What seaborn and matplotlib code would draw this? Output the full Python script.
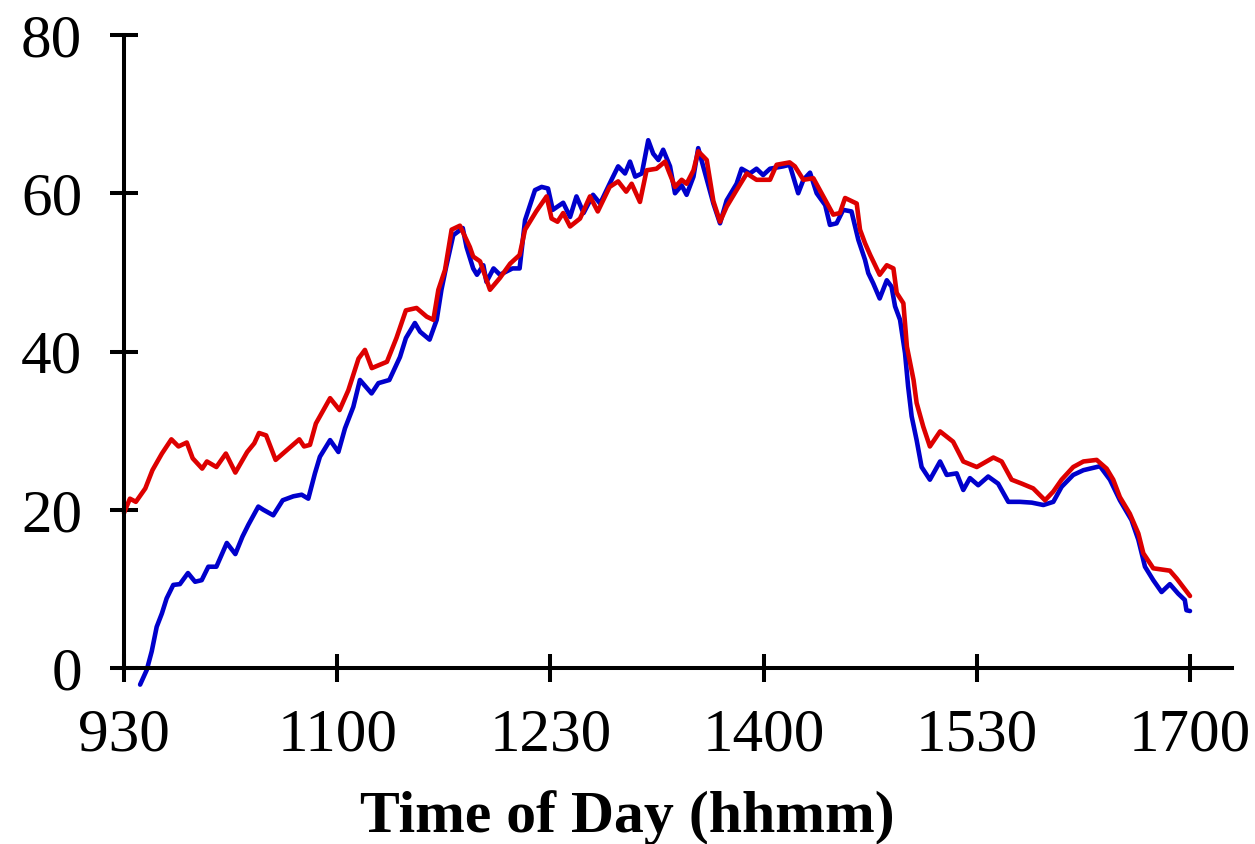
import numpy as np
import pandas as pd
import matplotlib
matplotlib.use("Agg")
import matplotlib.pyplot as plt
import seaborn as sns

# time in minutes after midnight (930 -> 570, 1700 -> 1020)
red_t = [570, 572.5, 575, 579, 582, 586, 590, 593, 596.5, 599, 603, 605, 609, 613, 617, 622, 625, 627, 630, 634,
         639, 644, 646, 648.5, 651, 657, 661, 664.7, 669, 671.7, 674.6, 681, 685, 689, 693.5, 697.8, 700.6, 702.7,
         705.5, 708.3, 711.8, 716, 717.4, 720.3, 724.5, 728.7, 733, 737, 739.3, 744, 748.4, 750.5, 753, 755.4,
         758.3, 762.5, 766.7, 770, 775, 778.6, 782, 784.3, 787.8, 790.6, 794.8, 798.4, 799.8, 802.6, 805.4, 807.5,
         810.4, 812.4, 816, 818.8, 821.6, 824.4, 828.6, 832.9, 837, 842.7, 845.5, 851, 853.2, 856.8, 861, 865.2,
         869.4, 872.2, 874.4, 879.3, 880.7, 882.8, 885, 889, 892, 894.8, 896.2, 899, 900.5, 903.3, 904.6, 907.4,
         910.2, 914.5, 920, 924.3, 930, 937, 940.5, 944.7, 949, 953.8, 958.8, 962.3, 965.8, 970.7, 975, 980.6,
         984.8, 987.6, 990.4, 994.6, 998.2, 1000.3, 1004.5, 1011.5, 1014.4, 1020]
red_v = [19.6, 21.4, 21.0, 22.7, 25.0, 27.1, 28.9, 28.0, 28.5, 26.5, 25.2, 26.1, 25.4, 27.1, 24.7, 27.3, 28.4, 29.7,
         29.4, 26.3, 27.6, 28.9, 28.0, 28.2, 30.9, 34.1, 32.6, 35.1, 39.1, 40.2, 37.9, 38.7, 41.7, 45.2, 45.5, 44.4,
         44.0, 47.8, 50.3, 55.4, 55.9, 53.2, 52.0, 51.4, 47.8, 49.3, 51.1, 52.2, 55.4, 57.7, 59.6, 56.8, 56.4, 57.5,
         55.8, 56.8, 59.6, 57.7, 60.8, 61.5, 60.2, 61.2, 58.9, 62.9, 63.1, 64.0, 62.9, 60.8, 61.7, 61.2, 62.9, 65.3,
         64.2, 59.0, 56.4, 58.3, 60.4, 62.5, 61.7, 61.7, 63.6, 63.9, 63.4, 61.7, 61.9, 59.6, 57.3, 57.5, 59.4, 58.7,
         55.4, 53.7, 52.2, 49.7, 50.9, 50.5, 47.4, 46.1, 40.6, 36.4, 33.5, 30.5, 28.0, 29.9, 28.6, 26.1, 25.4, 26.6,
         26.1, 23.8, 23.3, 22.7, 21.2, 22.3, 23.8, 25.4, 26.1, 26.3, 25.2, 23.8, 21.6, 19.5, 17.0, 14.5, 12.6, 12.3,
         11.3, 9.1]

blue_t = [576.8, 579.6, 581.7, 583.8, 586, 588, 590.8, 593.6, 597, 600, 602.8, 605.6, 609, 613.4, 617, 620, 622.5,
          626.7, 628.8, 633, 637, 641.5, 645, 647.8, 650.6, 652.7, 657, 660.5, 663.3, 666.8, 669.6, 674.5, 677.4,
          682, 686.5, 689, 692.8, 695, 699, 702, 704, 706, 709, 713, 714.6, 717.4, 719, 721.7, 723, 726, 728.7, 734,
          737, 739.3, 743.5, 746.3, 749, 751, 755.4, 758.3, 761, 764, 768, 771, 775.8, 778.6, 781.5, 783.6, 785.8,
          788.6, 791.3, 793.4, 795.6, 797.6, 800.5, 802.6, 805.4, 807.5, 810.4, 812.4, 814.5, 818.8, 821.6, 824.4,
          828.6, 830.7, 834.2, 837, 839.8, 842.7, 848.3, 851, 854.6, 856.8, 859.6, 862.4, 866, 868, 870.8, 873.6,
          877.1, 880, 882.8, 884.2, 886.3, 889, 892, 894, 895.5, 897.6, 899.7, 901, 902.5, 904.6, 906.7, 910.2,
          914.5, 917.3, 921.5, 924.3, 927.1, 930.6, 934.8, 939, 943.3, 948.2, 953.2, 958.1, 962.3, 965.8, 970.7,
          975, 982, 986.2, 990.4, 995.3, 998.2, 1001, 1004.5, 1008, 1011.5, 1015, 1017.8, 1018.5, 1020]
blue_v = [-2.1, -0.25, 2.1, 5.2, 6.9, 8.8, 10.5, 10.6, 12.0, 10.9, 11.1, 12.8, 12.8, 15.8, 14.4, 16.6, 18.1, 20.4,
          20.0, 19.3, 21.2, 21.7, 21.9, 21.4, 24.6, 26.7, 28.8, 27.3, 30.3, 33.0, 36.4, 34.7, 36.0, 36.4, 39.3, 41.7,
          43.6, 42.5, 41.5, 44.0, 47.8, 50.7, 54.7, 55.6, 53.2, 50.5, 49.7, 50.9, 48.8, 50.5, 49.7, 50.5, 50.5, 56.6,
          60.4, 60.8, 60.6, 57.9, 58.8, 57.0, 59.6, 57.5, 59.8, 58.7, 61.7, 63.4, 62.5, 64.0, 62.1, 62.5, 66.7, 65.0,
          64.2, 65.5, 63.4, 60.0, 61.0, 59.8, 62.1, 65.7, 63.4, 58.7, 56.2, 59.1, 61.2, 63.1, 62.5, 63.1, 62.3, 63.1,
          63.4, 63.6, 60.0, 61.7, 62.6, 60.0, 58.5, 56.0, 56.2, 57.9, 57.7, 54.1, 51.6, 49.9, 48.6, 46.7, 49.0, 48.2,
          45.7, 44.0, 39.8, 35.6, 31.8, 28.8, 25.4, 23.8, 26.1, 24.4, 24.6, 22.5, 24.0, 23.1, 24.2, 23.3, 21.0, 21.0,
          20.9, 20.6, 21.0, 22.9, 24.4, 25.0, 25.5, 23.8, 21.2, 18.7, 16.2, 12.8, 11.1, 9.6, 10.6, 9.4, 8.6, 7.3, 7.2]

x_ticks = [570, 660, 750, 840, 930, 1020]
x_tick_labels = ["930", "1100", "1230", "1400", "1530", "1700"]
y_ticks = [0, 20, 40, 60, 80]

sns.set_style("ticks")
plt.rcParams['font.family'] = ['Liberation Serif', 'DejaVu Serif']

fig = plt.figure(figsize=(12.55, 8.44), dpi=100)
ax = fig.add_axes([124/1255, (844-668)/844, (1232-124)/1255, (668-35)/844])

sns.lineplot(x=blue_t, y=blue_v, color="#0000cc", lw=3.3, ax=ax, estimator=None, sort=False, clip_on=False)
sns.lineplot(x=red_t, y=red_v, color="#dd0000", lw=3.3, ax=ax, estimator=None, sort=False, clip_on=False)

ax.set_xlim(570, 570 + (1232 - 124) / (1066 / 450))
ax.set_ylim(0, 80)
ax.set_xticks(x_ticks)
ax.set_xticklabels(x_tick_labels)
ax.set_yticks(y_ticks)
ax.spines['top'].set_visible(False)
ax.spines['right'].set_visible(False)
for s in ['left', 'bottom']:
    ax.spines[s].set_linewidth(2.9)
    ax.spines[s].set_color('black')
ax.tick_params(axis='both', direction='inout', length=20, width=2.9, labelsize=44, colors='black')
ax.tick_params(axis='y', pad=20)
ax.tick_params(axis='x', pad=18.5)
ax.set_xlabel("Time of Day (hhmm)", fontsize=43, fontweight='bold', labelpad=19.5, color='black')
ax.xaxis.label.set_x((627.5 - 124) / 1108)
ax.set_ylabel("")

fig.savefig("out.png", dpi=100)
